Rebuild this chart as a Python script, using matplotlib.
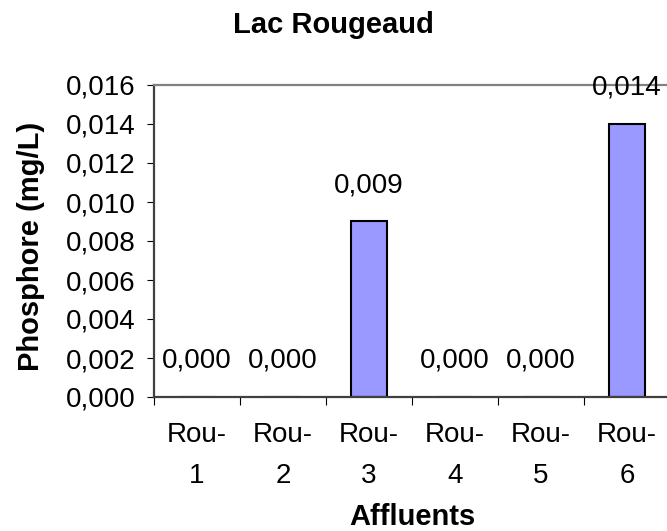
import matplotlib.pyplot as plt
import numpy as np

plt.rcParams['font.family'] = ['Liberation Sans', 'DejaVu Sans']

categories = ['Rou-\n1', 'Rou-\n2', 'Rou-\n3', 'Rou-\n4', 'Rou-\n5', 'Rou-\n6']
phosphore = [0.000, 0.000, 0.009, 0.000, 0.000, 0.014]
yticks = [0.000, 0.002, 0.004, 0.006, 0.008, 0.010, 0.012, 0.014, 0.016]

fig = plt.figure(figsize=(6.67, 5.31), dpi=100)
ax = fig.add_axes([154/667, 134/531, 516/667, 312/531])

x = np.arange(len(categories))
ax.bar(x, phosphore, width=0.43, color='#9999FF', edgecolor='black', lw=1.5, zorder=2)

for xi, v in zip(x, phosphore):
    ax.annotate(('%.3f' % v).replace('.', ','), (xi, v), xytext=(0, 26),
                textcoords='offset points', ha='center', va='center',
                fontsize=20, annotation_clip=False)

ax.set_xlim(-0.5, len(categories) - 0.5)
ax.set_ylim(0, 0.016)
ax.set_yticks(yticks)
ax.set_yticklabels([('%.3f' % t).replace('.', ',') for t in yticks], fontsize=20)
ax.set_xticks(np.arange(len(categories) + 1) - 0.5)
ax.set_xticklabels([''] * (len(categories) + 1))
ax.set_xticks(x, minor=True)
ax.set_xticklabels(categories, minor=True, fontsize=20)
plt.setp(ax.get_xticklabels(minor=True), linespacing=1.75)
ax.tick_params(axis='x', which='minor', length=0, pad=18)
ax.tick_params(axis='x', which='major', length=6, direction='out', color='black')
ax.tick_params(axis='y', length=5, direction='out', color='black', pad=8)

ax.spines['top'].set_color('#808080')
ax.spines['right'].set_color('#808080')
ax.spines['left'].set_color('#404040')
ax.spines['bottom'].set_color('#404040')
for s in ax.spines.values():
    s.set_linewidth(1.6)

fig.text(31.5/667, 1 - 246.5/531, 'Phosphore (mg/L)', rotation=90, ha='center', va='center',
         fontsize=21, fontweight='bold')
fig.text(412/667, 6/531, 'Affluents', ha='center', va='baseline', fontsize=21, fontweight='bold')
fig.text(0.5, 1 - 33/531, 'Lac Rougeaud', ha='center', va='baseline', fontsize=21, fontweight='bold')

plt.savefig('out.png', dpi=100)
